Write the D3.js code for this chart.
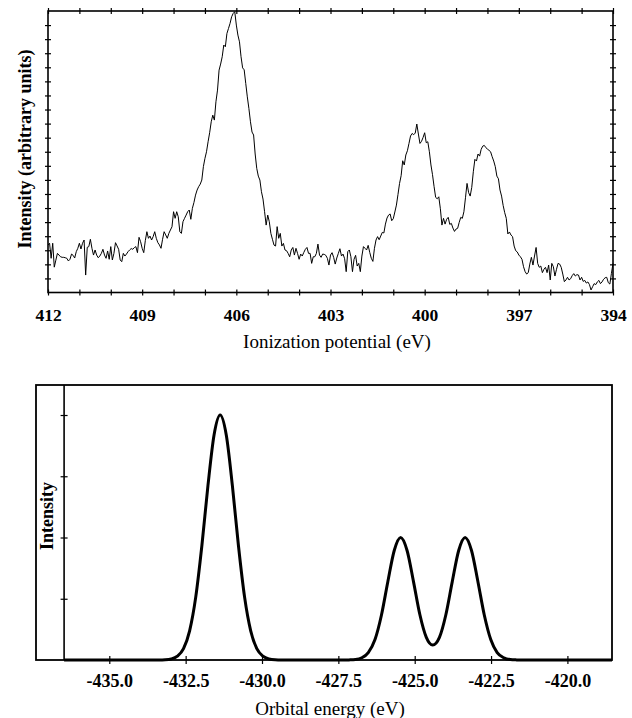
<!DOCTYPE html>
<html>
<head>
<meta charset="utf-8">
<script src="https://cdn.jsdelivr.net/npm/d3@7/dist/d3.min.js"></script>
<style>
  body { margin: 0; background: #fff; }
  svg { display: block; }
</style>
</head>
<body>
<svg id="chart" width="632" height="718"></svg>
<script>
// ---------- DATA ----------
// Top panel: measured photoelectron spectrum, intensity sampled every 0.05 eV from 412.0 eV down to 394.0 eV
const ipStart = 412.0;
const ipStep = -0.05;
const ipIntensity = [
  3.37, 3.5, 2.43, 3.5, 1.8, 2.3, 2.78, 2.66, 2.54, 2.5,
  2.5, 2.47, 2.43, 2.24, 2.36, 2.73, 2.64, 2.45, 2.9, 3.14,
  3.5, 3.09, 3.5, 3.73, 1.24, 3.21, 3.26, 3.78, 3.14, 2.66,
  3.02, 2.66, 2.47, 2.59, 2.78, 3.07, 2.66, 2.43, 2.95, 2.36,
  3.26, 2.31, 2.78, 3.54, 3.31, 3.07, 2.31, 2.19, 2.78, 2.59,
  2.73, 2.9, 3.02, 3.12, 3.07, 3.19, 3.26, 2.83, 3.92, 3.61,
  3.14, 2.83, 3.68, 4.32, 3.85, 4.01, 3.73, 3.97, 4.32, 3.85,
  3.54, 3.38, 3.14, 3.78, 4.32, 4.09, 3.85, 4.2, 4.44, 4.67,
  5.74, 5.27, 5.74, 5.38, 4.32, 4.2, 5.03, 5.27, 5.5, 5.74,
  5.86, 5.2, 5.98, 6.4, 6.92, 7.28, 7.52, 7.7, 7.99, 8.94,
  9.53, 10.0, 10.71, 11.35, 12.13, 12.6, 12.25, 13.55, 14.38, 15.8,
  16.23, 16.75, 17.58, 17.46, 18.4, 18.76, 19.12, 19.59, 19.83, 19.95,
  19.0, 18.29, 17.81, 16.75, 15.96, 15.82, 14.85, 13.9, 13.08, 12.13,
  11.4, 11.19, 9.84, 8.82, 8.27, 7.99, 7.16, 6.64, 5.74, 4.79,
  5.5, 5.03, 4.2, 3.78, 3.37, 3.3, 4.68, 3.85, 4.2, 3.3,
  3.49, 3.02, 2.97, 2.78, 2.54, 3.02, 3.2, 2.66, 3.14, 2.78,
  2.36, 2.73, 2.59, 2.85, 3.07, 3.2, 2.78, 2.78, 2.07, 2.54,
  2.54, 2.78, 3.44, 2.66, 2.5, 2.73, 2.71, 2.64, 2.43, 1.95,
  2.66, 2.83, 2.5, 2.02, 2.45, 2.78, 3.11, 2.59, 2.73, 2.4,
  1.48, 2.9, 3.02, 2.54, 1.48, 2.36, 2.64, 1.88, 2.07, 1.48,
  2.59, 3.26, 3.14, 3.02, 3.35, 2.85, 2.43, 2.21, 3.14, 3.73,
  3.97, 3.75, 4.01, 4.27, 4.23, 4.86, 5.29, 5.5, 5.58, 5.1,
  5.24, 5.72, 6.21, 6.97, 7.75, 8.3, 9.36, 9.06, 9.77, 10.07,
  10.59, 11.12, 11.3, 11.21, 11.33, 11.97, 11.26, 10.59, 10.74, 11.02,
  11.35, 10.64, 10.71, 10.0, 9.06, 8.37, 7.52, 6.76, 6.66, 6.8,
  5.95, 4.79, 5.27, 4.86, 5.2, 5.34, 4.84, 4.91, 4.58, 4.34,
  4.51, 4.56, 4.98, 5.34, 5.27, 5.74, 6.73, 7.75, 7.1, 6.85,
  7.47, 8.58, 9.46, 9.34, 9.84, 9.69, 10.17, 10.4, 10.45, 10.29,
  10.19, 10.1, 10.0, 9.65, 9.34, 8.94, 8.27, 8.08, 7.28, 6.85,
  6.19, 5.67, 5.27, 4.16, 4.3, 4.08, 3.97, 3.3, 2.97, 2.88,
  2.66, 2.54, 2.36, 1.83, 1.48, 1.31, 1.41, 2.02, 2.5, 1.95,
  2.59, 3.2, 2.07, 1.79, 1.88, 1.41, 1.65, 1.79, 1.41, 1.95,
  0.89, 2.07, 1.83, 1.17, 1.65, 2.07, 2.02, 1.79, 1.31, 0.77,
  0.89, 1.08, 0.89, 0.98, 1.2, 1.34, 1.17, 1.27, 1.24, 0.89,
  1.08, 0.79, 0.86, 0.67, 0.75, 0.56, 0.18, 0.41, 0.63, 0.56,
  0.75, 0.86, 0.63, 0.75, 0.94, 1.05, 1.08, 0.7, 0.6, 1.36,
  2.07
];
const ipTickLabels = [412, 409, 406, 403, 400, 397, 394];
const ipDomain = [412, 394];
const ipIntensityDomain = [0, 20];

// Bottom panel: simulated (broadened) orbital-energy spectrum
const orbitalEnergy = [
  -436.48,
  -433.37, -433.17, -432.97, -432.77, -432.57, -432.37, -432.17, -431.97, -431.77, -431.57,
  -431.37,
  -431.17, -430.97, -430.77, -430.57, -430.37, -430.17, -429.97, -429.77, -429.57, -429.37,
  -427.57, -427.36, -427.15, -426.94, -426.73, -426.52, -426.30, -426.09, -425.88, -425.67,
  -425.46,
  -425.25, -425.04, -424.83, -424.62, -424.41, -424.19, -423.98, -423.77, -423.56,
  -423.35,
  -423.14, -422.93, -422.72, -422.51, -422.30, -422.08, -421.87, -421.66, -421.45, -421.24,
  -418.54
];
const orbitalIntensity = [
  0,
  0.001, 0.004, 0.017, 0.062, 0.187, 0.477, 1.026, 1.861, 2.847, 3.674,
  4.000,
  3.674, 2.847, 1.861, 1.026, 0.477, 0.187, 0.062, 0.017, 0.004, 0.001,
  0, 0, 0.002, 0.008, 0.036, 0.122, 0.334, 0.731, 1.278, 1.788,
  2.000,
  1.788, 1.280, 0.739, 0.370, 0.244, 0.370, 0.739, 1.280, 1.788,
  2.000,
  1.788, 1.278, 0.731, 0.334, 0.122, 0.036, 0.008, 0.002, 0, 0,
  0
];
const orbitalTickLabels = [-435.0, -432.5, -430.0, -427.5, -425.0, -422.5, -420.0];
const orbitalDomain = [-437.40, -418.54];
const orbitalAxisPosition = -436.48;
const orbitalIntensityTicks = [1, 2, 3, 4];
const orbitalIntensityDomain = [0, 4.49];

// ---------- DRAWING ----------
const svg = d3.select("#chart");
const serif = "'Liberation Serif', 'Times New Roman', serif";

function crossTicks(g, dir, half) {
  g.select(".domain").remove();
  g.selectAll(".tick line")
    .attr("stroke", "#000").attr("stroke-width", 1.2)
    .each(function () {
      const l = d3.select(this);
      if (dir === "h") l.attr("y1", -half).attr("y2", half);
      else l.attr("x1", -half).attr("x2", half);
    });
}

// ===== Top panel =====
const T = { l: 48, r: 613, t: 11, b: 292.5 };
const xT = d3.scaleLinear().domain(ipDomain).range([T.l, T.r]);
const yT = d3.scaleLinear().domain(ipIntensityDomain).range([T.b, T.t]);

const ipData = ipIntensity.map((v, i) => ({ e: ipStart + i * ipStep, v }));

svg.append("path")
  .datum(ipData)
  .attr("fill", "none")
  .attr("stroke", "#000")
  .attr("stroke-width", 1)
  .attr("stroke-linejoin", "round")
  .attr("d", d3.line().x(d => xT(d.e)).y(d => yT(d.v)));

svg.append("rect")
  .attr("x", T.l).attr("y", T.t)
  .attr("width", T.r - T.l).attr("height", T.b - T.t)
  .attr("fill", "none").attr("stroke", "#000").attr("stroke-width", 1.6);

const ipMinor = d3.range(394, 413, 1);
const intMinor = d3.range(1, 20, 1);

svg.append("g").attr("transform", `translate(0,${T.b})`)
  .call(d3.axisBottom(xT).tickValues(ipMinor).tickFormat(""))
  .call(g => crossTicks(g, "h", 3));
svg.append("g").attr("transform", `translate(0,${T.t})`)
  .call(d3.axisTop(xT).tickValues(ipMinor).tickFormat(""))
  .call(g => crossTicks(g, "h", 3));
svg.append("g").attr("transform", `translate(${T.l},0)`)
  .call(d3.axisLeft(yT).tickValues(intMinor).tickFormat(""))
  .call(g => crossTicks(g, "v", 3));
svg.append("g").attr("transform", `translate(${T.r},0)`)
  .call(d3.axisRight(yT).tickValues(intMinor).tickFormat(""))
  .call(g => crossTicks(g, "v", 3));

// labels
svg.append("g").attr("transform", `translate(0,${T.b})`)
  .call(d3.axisBottom(xT).tickValues(ipTickLabels).tickSize(0).tickPadding(16.5).tickFormat(d3.format("d")))
  .call(g => {
    g.select(".domain").remove();
    g.selectAll("text").attr("font-family", serif).attr("font-weight", "bold")
      .attr("font-size", 17.5).attr("fill", "#000");
  });

svg.append("text")
  .attr("x", 337).attr("y", 348)
  .attr("text-anchor", "middle")
  .attr("font-family", serif).attr("font-size", 19)
  .text("Ionization potential (eV)");

svg.append("text")
  .attr("transform", `translate(31,149) rotate(-90)`)
  .attr("text-anchor", "middle")
  .attr("font-family", serif).attr("font-size", 18).attr("font-weight", "bold")
  .text("Intensity (arbitrary units)");

// ===== Bottom panel =====
const B = { l: 36, r: 612, t: 385, b: 660 };
const xB = d3.scaleLinear().domain(orbitalDomain).range([B.l, B.r]);
const yB = d3.scaleLinear().domain(orbitalIntensityDomain).range([B.b, B.t]);

svg.append("rect")
  .attr("x", B.l).attr("y", B.t)
  .attr("width", B.r - B.l).attr("height", B.b - B.t)
  .attr("fill", "none").attr("stroke", "#000").attr("stroke-width", 1.8);

const orbitalData = orbitalEnergy.map((e, i) => ({ e, v: orbitalIntensity[i] }));
svg.append("path")
  .datum(orbitalData)
  .attr("fill", "none")
  .attr("stroke", "#000")
  .attr("stroke-width", 3)
  .attr("stroke-linejoin", "round")
  .attr("d", d3.line().curve(d3.curveMonotoneX).x(d => xB(d.e)).y(d => yB(d.v)));

// inner y axis
svg.append("g").attr("transform", `translate(${xB(orbitalAxisPosition)},0)`)
  .call(d3.axisLeft(yB).tickValues(orbitalIntensityTicks).tickFormat(""))
  .call(g => {
    crossTicks(g, "v", 3.5);
    g.append("line").attr("x1", 0).attr("x2", 0)
      .attr("y1", B.t).attr("y2", B.b)
      .attr("stroke", "#000").attr("stroke-width", 1.6);
  });

// x axis ticks
svg.append("g").attr("transform", `translate(0,${B.b})`)
  .call(d3.axisBottom(xB).tickValues(orbitalTickLabels).tickFormat(""))
  .call(g => crossTicks(g, "h", 4));

svg.append("g").attr("transform", `translate(0,${B.b})`)
  .call(d3.axisBottom(xB).tickValues(orbitalTickLabels).tickSize(0).tickPadding(14.5)
    .tickFormat(d => d3.format(".1f")(d).replace("\u2212", "-")))
  .call(g => {
    g.select(".domain").remove();
    g.selectAll("text").attr("font-family", serif).attr("font-weight", "bold")
      .attr("font-size", 18).attr("fill", "#000");
  });

svg.append("text")
  .attr("x", 330).attr("y", 715)
  .attr("text-anchor", "middle")
  .attr("font-family", serif).attr("font-size", 19)
  .text("Orbital energy (eV)");

svg.append("text")
  .attr("transform", `translate(53,516) rotate(-90)`)
  .attr("text-anchor", "middle")
  .attr("font-family", serif).attr("font-size", 18).attr("font-weight", "bold")
  .text("Intensity");
</script>
</body>
</html>
